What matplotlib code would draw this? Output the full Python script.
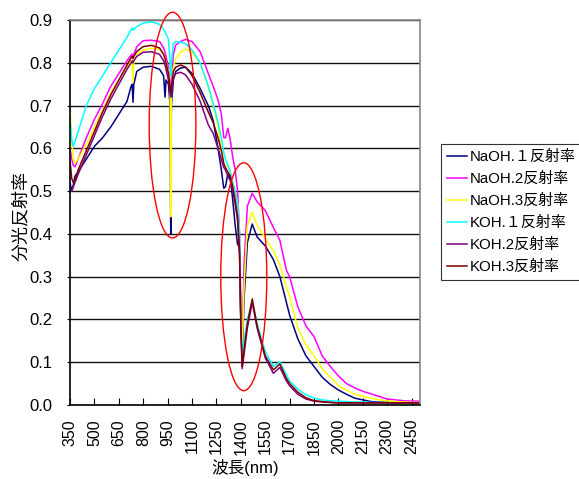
import matplotlib
matplotlib.use("Agg")
import matplotlib.pyplot as plt
from matplotlib.patches import Ellipse

plt.rcParams["font.family"] = ["Liberation Sans", "Noto Sans CJK JP"]

# wavelength knots (nm)
wl = [350, 360, 370, 380, 400, 450, 500, 550, 600, 650, 700, 725, 732, 737, 742,
      760, 800, 850, 900, 925, 934, 940, 955, 965, 969, 973, 985, 1000, 1030, 1060,
      1100, 1150, 1200, 1230, 1260, 1280, 1295, 1305, 1320, 1335, 1350, 1365, 1380,
      1392, 1400, 1408, 1420, 1440, 1470, 1500, 1550, 1600, 1640, 1680, 1700, 1750,
      1800, 1850, 1900, 1950, 2000, 2050, 2100, 2150, 2200, 2250, 2300, 2350, 2400,
      2450, 2500]

naoh1 = [0.52, 0.50, 0.515, 0.535, 0.545, 0.575, 0.605, 0.625, 0.65, 0.68, 0.71, 0.745, 0.75, 0.708, 0.75,
         0.78, 0.79, 0.792, 0.785, 0.77, 0.72, 0.76, 0.75, 0.70, 0.40, 0.70, 0.76, 0.78, 0.788, 0.79,
         0.775, 0.74, 0.70, 0.665, 0.60, 0.55, 0.507, 0.51, 0.54, 0.53, 0.48, 0.42, 0.375,
         0.37, 0.20, 0.11, 0.25, 0.38, 0.423, 0.393, 0.372, 0.34, 0.30, 0.24, 0.21, 0.155,
         0.115, 0.09, 0.065, 0.048, 0.035, 0.025, 0.016, 0.012, 0.008, 0.007, 0.006, 0.005, 0.005,
         0.005, 0.005]

naoh2 = [0.60, 0.575, 0.56, 0.557, 0.575, 0.625, 0.668, 0.705, 0.745, 0.775, 0.805, 0.818, 0.82, 0.815, 0.82,
         0.838, 0.852, 0.853, 0.85, 0.835, 0.825, 0.815, 0.79, 0.745, 0.73, 0.76, 0.82, 0.842, 0.85, 0.855,
         0.85, 0.826, 0.775, 0.745, 0.713, 0.68, 0.625, 0.625, 0.647, 0.62, 0.58, 0.55, 0.50,
         0.40, 0.22, 0.13, 0.33, 0.465, 0.495, 0.475, 0.455, 0.415, 0.385, 0.315, 0.30, 0.23,
         0.185, 0.16, 0.115, 0.09, 0.068, 0.05, 0.04, 0.032, 0.026, 0.02, 0.014, 0.012, 0.01,
         0.009, 0.009]

naoh3 = [0.69, 0.62, 0.575, 0.565, 0.575, 0.61, 0.65, 0.69, 0.73, 0.76, 0.79, 0.805, 0.80, 0.755, 0.80,
         0.82, 0.83, 0.834, 0.832, 0.82, 0.81, 0.80, 0.78, 0.74, 0.44, 0.74, 0.79, 0.81, 0.825, 0.832,
         0.825, 0.80, 0.745, 0.70, 0.65, 0.60, 0.565, 0.555, 0.56, 0.545, 0.52, 0.50, 0.47,
         0.38, 0.20, 0.125, 0.28, 0.42, 0.451, 0.42, 0.39, 0.36, 0.327, 0.275, 0.255, 0.18,
         0.14, 0.115, 0.085, 0.065, 0.045, 0.035, 0.025, 0.02, 0.016, 0.012, 0.01, 0.008, 0.007,
         0.006, 0.006]

koh1 = [0.67, 0.62, 0.605, 0.615, 0.64, 0.70, 0.74, 0.77, 0.80, 0.83, 0.86, 0.878, 0.882, 0.876, 0.878,
        0.885, 0.893, 0.896, 0.89, 0.878, 0.872, 0.868, 0.855, 0.80, 0.77, 0.80, 0.845, 0.85, 0.848, 0.845,
        0.83, 0.80, 0.745, 0.705, 0.66, 0.625, 0.59, 0.575, 0.56, 0.545, 0.52, 0.50, 0.47,
        0.40, 0.20, 0.12, 0.15, 0.20, 0.243, 0.19, 0.125, 0.09, 0.101, 0.07, 0.056, 0.037,
        0.024, 0.016, 0.012, 0.01, 0.009, 0.008, 0.007, 0.007, 0.006, 0.006, 0.005, 0.005, 0.005,
        0.005, 0.005]

koh2 = [0.50, 0.50, 0.51, 0.52, 0.54, 0.585, 0.63, 0.675, 0.715, 0.75, 0.785, 0.80, 0.805, 0.80, 0.805,
        0.815, 0.825, 0.826, 0.82, 0.805, 0.795, 0.785, 0.76, 0.73, 0.72, 0.735, 0.765, 0.775, 0.778, 0.772,
        0.75, 0.71, 0.655, 0.635, 0.60, 0.575, 0.555, 0.55, 0.535, 0.525, 0.50, 0.47, 0.43,
        0.35, 0.18, 0.085, 0.12, 0.18, 0.24, 0.18, 0.11, 0.074, 0.088, 0.056, 0.045, 0.025,
        0.014, 0.009, 0.007, 0.006, 0.005, 0.005, 0.005, 0.005, 0.005, 0.005, 0.005, 0.005, 0.005,
        0.005, 0.005]

koh3 = [0.57, 0.53, 0.52, 0.525, 0.55, 0.595, 0.64, 0.685, 0.725, 0.76, 0.795, 0.812, 0.815, 0.81, 0.815,
        0.827, 0.838, 0.841, 0.835, 0.82, 0.81, 0.80, 0.775, 0.74, 0.73, 0.745, 0.78, 0.79, 0.795, 0.79,
        0.77, 0.73, 0.685, 0.66, 0.625, 0.595, 0.565, 0.555, 0.545, 0.535, 0.51, 0.48, 0.44,
        0.36, 0.19, 0.09, 0.13, 0.19, 0.248, 0.185, 0.115, 0.082, 0.096, 0.062, 0.05, 0.03,
        0.017, 0.01, 0.008, 0.006, 0.005, 0.005, 0.005, 0.005, 0.005, 0.005, 0.005, 0.005, 0.005,
        0.005, 0.005]

series = [naoh1, naoh2, naoh3, koh1, koh2, koh3]
labels = ["NaOH.１反射率", "NaOH.2反射率", "NaOH.3反射率", "KOH.１反射率", "KOH.2反射率", "KOH.3反射率"]
colors = ["#000080", "#FF00FF", "#FFFF00", "#00FFFF", "#800080", "#800000"]

xticks = list(range(350, 2451, 150))
yticks = [0.0, 0.1, 0.2, 0.3, 0.4, 0.5, 0.6, 0.7, 0.8, 0.9]

fig = plt.figure(figsize=(5.79, 4.79), dpi=100)
ax = fig.add_axes([0.121, 0.1545, 0.604, 0.8035])

for vals, lab, col in zip(series, labels, colors):
    ax.plot(wl, vals, color=col, lw=1.1, label=lab)

# red ellipses marking the water absorption bands
for cx, cy, w, h in [(980, 0.6545, 287, 0.528), (1418, 0.30, 283, 0.533)]:
    ax.add_patch(Ellipse((cx, cy), w, h, fill=False, edgecolor="#FF0000", lw=1.0,
                         clip_on=False, zorder=5))

ax.set_xlim(350, 2500)
ax.set_ylim(0, 0.9)
ax.set_xticks(xticks)
ax.set_xticklabels([str(t) for t in xticks], rotation=90, fontsize=11.5)
ax.set_yticks(yticks)
ax.set_yticklabels([f"{t:.1f}" for t in yticks], fontsize=12)
ax.tick_params(axis="x", direction="in", length=5, pad=10, color="black")
ax.tick_params(axis="y", length=2, pad=11)
ax.yaxis.grid(True, color="#111111", lw=1.0)
ax.set_axisbelow(True)

for s in ["top", "right"]:
    ax.spines[s].set_color("#888888")
    ax.spines[s].set_linewidth(1.2)
for s in ["left", "bottom"]:
    ax.spines[s].set_color("black")
    ax.spines[s].set_linewidth(1.2)

ax.set_xlabel("波長(nm)", fontsize=12, labelpad=3)
ax.set_ylabel("分光反射率", fontsize=13)
ax.yaxis.set_label_coords(-0.115, 0.49)

leg = fig.legend(loc="upper left", bbox_to_anchor=(441 / 579, 1 - 144 / 479),
                 fontsize=10.8, frameon=True, fancybox=False, edgecolor="black",
                 handlelength=1.3, handletextpad=0.2, labelspacing=0.52,
                 borderpad=0.4, borderaxespad=0)
leg.get_frame().set_linewidth(0.8)

fig.savefig("out.png", dpi=100)
